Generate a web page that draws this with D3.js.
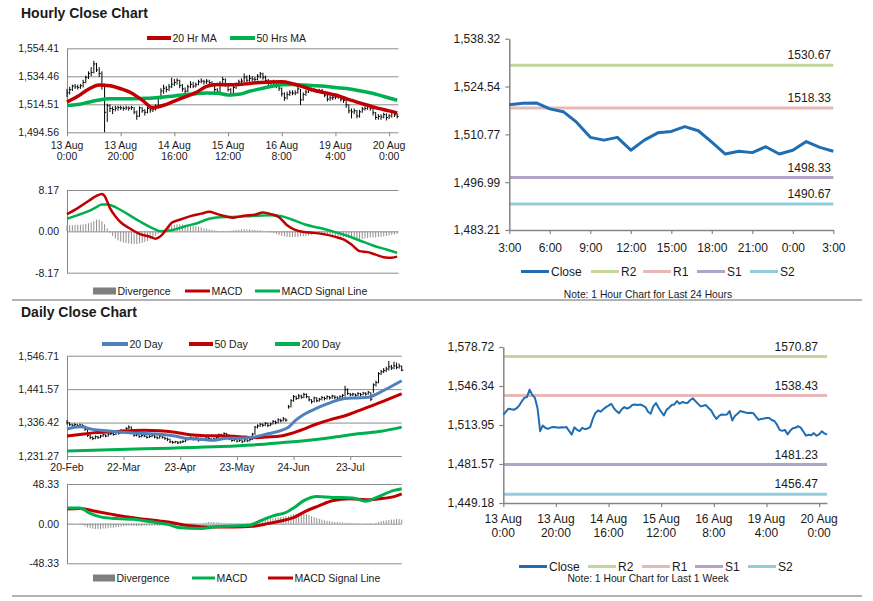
<!DOCTYPE html>
<html>
<head>
<meta charset="utf-8">
<script src="https://cdn.jsdelivr.net/npm/d3@7"></script>
<style>
body { margin: 0; background: #fff; }
svg text { font-family: "Liberation Sans", Arial, sans-serif; fill: #1a1a1a; }
</style>
</head>
<body>
<svg id="chart" width="873" height="601"></svg>
<script>
// ---------- hourly data (13 Aug 0:00 .. 20 Aug 3:00, one point per hour) ----------
const hourTickIdx = [0, 20, 40, 60, 80, 100, 120];
const hourTickLabels = [["13 Aug","0:00"],["13 Aug","20:00"],["14 Aug","16:00"],["15 Aug","12:00"],["16 Aug","8:00"],["19 Aug","4:00"],["20 Aug","0:00"]];
const hourPriceTicks = [1554.41, 1534.46, 1514.51, 1494.56];
const hourMacdTicks = [8.17, 0, -8.17];

const hourClose = [
1522.7,1525.0,1527.5,1527.0,1526.6,1527.7,1530.0,1533.5,1536.5,1537.2,
1543.3,1539.0,1536.5,1528.0,1508.8,1513.5,1511.5,1510.8,1511.8,1512.2,
1512.0,1511.6,1512.0,1511.8,1512.2,1509.0,1506.0,1512.0,1510.0,1508.8,
1511.6,1510.5,1511.0,1512.2,1519.0,1524.0,1526.0,1525.0,1527.0,1528.8,
1530.0,1531.6,1528.0,1525.5,1523.8,1527.0,1528.8,1527.5,1528.5,1530.5,
1531.0,1530.5,1531.0,1530.0,1528.8,1525.0,1523.3,1529.4,1532.2,1528.3,
1525.0,1521.8,1526.5,1528.3,1530.5,1531.0,1533.8,1531.6,1533.0,1532.5,
1532.2,1534.5,1536.2,1533.8,1531.5,1529.4,1530.0,1530.5,1528.0,1526.0,
1522.0,1519.0,1521.5,1522.7,1522.5,1522.7,1525.5,1517.7,1521.5,1523.3,
1525.5,1525.0,1524.4,1524.0,1524.2,1523.8,1521.0,1518.2,1519.0,1519.3,
1519.7,1519.8,1518.1,1517.3,1514.2,1509.9,1509.1,1509.9,1506.2,1509.1,
1511.2,1511.6,1513.0,1511.8,1508.5,1505.1,1505.9,1505.5,1507.2,1505.1,
1506.2,1508.7,1507.0,1505.9];

const hourHigh = [
1525.5,1527,1528.5,1529,1528.5,1529,1532,1535,1538,1541,
1545.5,1544,1541,1538,1529,1515,1514.5,1513,1513.5,1513.5,
1513.5,1513,1513.5,1513,1513.5,1512.5,1510,1513,1512.5,1511,
1513,1512.5,1512.5,1514.5,1520.5,1526,1528.5,1527.5,1529,1533.5,
1532.5,1533,1532,1529,1526.5,1528.5,1531,1530.5,1530,1532,
1533,1532,1532.5,1532,1531,1529.5,1526,1531,1534,1533,
1529.5,1526,1528,1530,1532,1533,1536.5,1535,1535.5,1534.5,
1534,1536,1537.5,1537,1535,1532.5,1531.5,1532,1531,1529,
1526.5,1523,1523.5,1524.5,1524.5,1524.5,1527,1525.5,1523,1525,
1527,1526.5,1526,1525.5,1525.5,1525.5,1524,1521.5,1520.5,1520.5,
1521,1521,1520.5,1519,1518,1514.5,1511.5,1511.5,1510.5,1510.5,
1512.5,1513,1514.5,1514,1512.5,1509,1507.5,1507.5,1508.5,1508,
1507.5,1510,1509.5,1508];

const hourLow = [
1519.5,1521.5,1524,1525.5,1525,1525.5,1526.5,1529.5,1532.5,1534.5,
1536.5,1537.5,1534,1525,1494.6,1502,1509,1507.5,1509.5,1510,
1510.5,1510,1510.5,1510,1510.5,1507.5,1503.5,1505.5,1508.5,1506.5,
1508,1508.5,1509,1510,1511.5,1518,1522,1523,1524,1526,
1527.5,1528.5,1526,1523.5,1521.5,1523,1526,1526,1526.5,1528,
1529.5,1528.5,1529,1528,1527,1523,1521.5,1523,1528.5,1527,
1523.5,1520,1521,1525.5,1527.5,1529,1530,1530,1530.5,1531,
1530.5,1531.5,1533,1532,1530,1527.5,1528,1528.5,1526,1524,
1520,1517,1518,1520.5,1521,1521,1522,1514,1517,1520.5,
1522.5,1523.5,1523,1522.5,1522.5,1522,1519.5,1516.5,1517,1517.5,
1518,1518.5,1516.5,1515.5,1512,1508,1504.5,1507.5,1504.5,1505,
1508.5,1510,1510.5,1510,1506.5,1503.5,1503.5,1503.5,1504.5,1503,
1504,1505,1505.5,1504.5];

// [hour, value]
const ma20Hour = [[0,1516.2],[4,1520.2],[8,1525.2],[12,1528.2],[16,1527.8],[20,1525.6],[24,1522.6],[28,1517.5],
  [32,1512.2],[36,1513.8],[40,1516.8],[44,1519.8],[48,1522.8],[52,1527.3],[56,1528.6],[60,1528.4],[64,1528.6],
  [68,1529.4],[72,1530],[76,1530.4],[80,1530.6],[84,1529.2],[88,1527],[92,1524.5],[96,1522.8],[100,1521.1],
  [104,1518.5],[108,1516.1],[112,1513.8],[116,1511.6],[120,1509.8],[123,1508.3]];
const ma50Hour = [[0,1513.6],[4,1514.3],[8,1516],[12,1517.6],[16,1518.4],[20,1518.5],[24,1518.5],[28,1518.7],
  [32,1519],[36,1519.7],[40,1520.5],[44,1521.4],[48,1522.1],[52,1522.5],[56,1522.4],[60,1521.2],[64,1521.6],
  [68,1523.8],[72,1525.5],[76,1527.2],[80,1528.4],[84,1528.7],[88,1528.2],[92,1527.8],[96,1527.3],[100,1526.4],
  [104,1525.7],[108,1524.5],[112,1523.1],[116,1521.2],[120,1519],[123,1517.4]];

const macdHour = [[0,3.4],[4,4.6],[8,6.0],[11,7.0],[13,7.4],[14,7.0],[16,4.6],[18,3.0],[20,1.8],[23,0.7],
  [27,-0.5],[31,-1.1],[33,-1.45],[35,-0.9],[37,0.4],[39,1.7],[42,2.3],[46,3.0],[50,3.5],[53,3.85],[56,3.4],
  [59,3.0],[62,2.7],[66,3.1],[70,3.3],[73,3.7],[76,3.4],[79,2.8],[82,1.2],[85,0.3],[88,-0.1],[92,-0.3],
  [96,-0.6],[100,-1.1],[103,-1.6],[106,-2.6],[109,-3.9],[112,-4.1],[115,-4.6],[118,-5.1],[121,-5.2],[123,-5.0]];
const signalHour = [[0,2.5],[4,3.2],[8,4.0],[11,4.8],[13,5.3],[15,5.3],[18,4.8],[22,3.6],[27,2.0],[32,0.6],
  [35,0.0],[39,0.2],[44,1.0],[49,1.7],[53,2.5],[57,2.8],[62,2.85],[69,3.05],[76,3.2],[80,3.0],[84,2.3],
  [89,1.3],[94,0.7],[99,0.0],[104,-0.8],[109,-1.8],[114,-2.8],[119,-3.6],[123,-4.25]];
const divHour = [
1.2,1.2,1.2,1.3,1.3,1.3,1.4,1.5,1.6,1.8,
2.0,2.3,2.3,2.0,1.4,0.6,-0.3,-0.9,-1.4,-1.8,
-2.0,-2.2,-2.3,-2.4,-2.5,-2.5,-2.5,-2.4,-2.3,-2.1,
-1.9,-1.6,-1.3,-0.9,-0.5,-0.2,0.2,0.6,1.0,1.2,
1.3,1.4,1.4,1.4,1.3,1.3,1.2,1.1,1.0,0.9,
0.8,0.6,0.5,0.4,0.3,0.2,0.1,0.0,-0.1,0.0,
0.1,0.1,0.2,0.3,0.3,0.4,0.4,0.4,0.4,0.3,
0.3,0.2,0.2,0.1,0.0,-0.1,-0.2,-0.3,-0.5,-0.7,
-0.9,-1.0,-1.1,-1.1,-1.1,-1.1,-1.1,-1.0,-1.0,-0.9,
-0.8,-0.7,-0.6,-0.5,-0.4,-0.4,-0.5,-0.6,-0.7,-0.8,
-0.9,-1.0,-1.1,-1.1,-1.2,-1.3,-1.4,-1.5,-1.6,-1.6,
-1.5,-1.4,-1.3,-1.2,-1.2,-1.2,-1.1,-1.1,-1.0,-0.9,
-0.8,-0.7,-0.6,-0.5];

// ---------- pivot level charts ----------
const levelNames = ["R2", "R1", "S1", "S2"];
const levels24 = [1530.67, 1518.33, 1498.33, 1490.67];
const levelsWeek = [1570.87, 1538.43, 1481.23, 1456.47];
const ticks24 = [1538.32, 1524.54, 1510.77, 1496.99, 1483.21];
const ticksWeek = [1578.72, 1546.34, 1513.95, 1481.57, 1449.18];
const hours24Labels = ["3:00","6:00","9:00","12:00","15:00","18:00","21:00","0:00","3:00"];
const close24 = hourClose.slice(99); // 19 Aug 3:00 .. 20 Aug 3:00

// ---------- daily data (20 Feb .. 20 Aug, trading days) ----------
const dayTickIdx = [0, 22, 44, 66, 88, 110];
const dayTickLabels = ["20-Feb","22-Mar","23-Apr","23-May","24-Jun","23-Jul"];
const dayPriceTicks = [1546.71, 1441.57, 1336.42, 1231.27];
const dayMacdTicks = [48.33, 0, -48.33];

const dayClose = [
1336,1330,1328,1330,1327,1329,1326,1315,1296,1290,
1286,1292,1289,1294,1298,1294,1300,1302,1299,1305,
1303,1312,1310,1318,1322,1314,1296,1298,1292,1296,
1294,1290,1293,1296,1291,1288,1294,1290,1286,1284,
1276,1274,1276,1273,1275,1277,1282,1286,1289,1284,
1288,1281,1285,1284,1288,1286,1282,1285,1290,1298,
1296,1302,1297,1285,1280,1283,1278,1281,1276,1282,
1279,1283,1300,1322,1326,1331,1328,1334,1327,1332,
1340,1336,1345,1342,1348,1344,1386,1405,1418,1412,
1420,1416,1425,1418,1408,1402,1414,1405,1410,1415,
1412,1418,1414,1420,1416,1413,1418,1422,1440,1428,
1424,1426,1422,1428,1424,1429,1426,1432,1410,1455,
1462,1490,1496,1500,1505,1512,1508,1515,1510,1514,
1501];
const dayHigh = [
1344,1337,1333,1334,1332,1333,1331,1327,1316,1299,
1293,1296,1295,1298,1302,1300,1304,1306,1304,1309,
1308,1316,1315,1322,1328,1324,1315,1302,1300,1300,
1299,1296,1297,1300,1298,1294,1298,1296,1292,1289,
1286,1279,1279,1278,1279,1281,1285,1290,1293,1291,
1292,1290,1289,1288,1292,1291,1288,1289,1294,1302,
1301,1306,1304,1299,1288,1287,1285,1285,1283,1285,
1284,1287,1304,1326,1331,1335,1334,1338,1336,1336,
1344,1343,1350,1348,1354,1350,1392,1410,1423,1421,
1426,1424,1430,1428,1420,1410,1418,1416,1414,1420,
1418,1422,1420,1424,1422,1419,1422,1426,1452,1444,
1430,1430,1428,1432,1430,1433,1432,1436,1432,1460,
1468,1495,1502,1508,1512,1530,1518,1528,1525,1522,
1516];
const dayLow = [
1330,1326,1324,1325,1323,1324,1321,1310,1291,1284,
1281,1284,1285,1287,1291,1290,1292,1297,1295,1297,
1299,1301,1306,1308,1316,1310,1292,1293,1288,1290,
1290,1286,1288,1290,1287,1284,1286,1286,1282,1278,
1272,1270,1271,1269,1270,1272,1275,1280,1283,1280,
1282,1276,1279,1280,1282,1281,1278,1280,1283,1288,
1292,1294,1292,1281,1276,1277,1274,1276,1272,1275,
1275,1277,1281,1298,1318,1322,1323,1325,1322,1325,
1330,1331,1334,1337,1340,1339,1380,1384,1402,1407,
1410,1411,1413,1413,1403,1396,1400,1400,1402,1406,
1406,1409,1409,1411,1410,1408,1410,1414,1418,1423,
1419,1420,1418,1420,1419,1422,1421,1424,1404,1430,
1450,1460,1486,1492,1495,1500,1502,1504,1504,1506,
1498];

// [day, value]
const ma20Day = [[0,1316],[5,1323],[10,1315],[16,1310],[23,1305],[30,1302],[36,1300],[42,1294],[47,1286],
  [52,1284],[57,1281],[62,1287],[67,1287],[72,1290],[78,1301],[83,1311],[86,1322],[89,1345],[92,1362],
  [96,1378],[101,1395],[106,1409],[112,1414],[117,1416],[121,1429],[125,1446],[130,1468]];
const ma50Day = [[0,1294],[5,1299],[10,1304],[16,1307],[23,1310],[30,1312],[36,1311],[42,1306],[47,1299],
  [52,1296],[57,1295],[62,1294],[67,1292],[72,1289],[78,1291],[83,1294],[87,1302],[92,1316],[97,1332],
  [102,1345],[108,1358],[113,1373],[118,1388],[123,1404],[130,1427]];
const ma200Day = [[0,1247],[20,1252],[40,1256],[60,1261],[72,1266],[83,1273],[94,1281],[104,1291],
  [114,1302],[122,1309],[130,1322]];

const macdDay = [[0,19],[5,19],[9,12.4],[13,8.3],[19,6.2],[26,5.4],[32,2.5],[39,-0.8],[44,-5],[52,-5.8],
  [58,-3.7],[65,-2.9],[71,-2],[75,3.3],[80,9.5],[85,13.6],[88,19],[92,28],[97,33],[103,32],[111,31.4],
  [116,27.3],[121,33],[127,40.5],[130,42.6]];
const signalDay = [[0,17.8],[5,18.6],[10,15.7],[17,11.6],[23,8.3],[30,5.4],[36,3.3],[41,1.2],[46,-2],
  [52,-3.7],[58,-4.1],[65,-4.1],[72,-3.3],[78,0],[83,3.3],[88,7.4],[93,15.7],[98,21.9],[103,28],
  [110,30.2],[116,29],[121,30.2],[127,33],[130,36.4]];
const divDay = [
0.5,0.5,0.3,0.2,0,-0.5,-1.5,-3,
-4.5,-5.5,-6,-6.5,-6.5,-6.5,-6,-6,
-5.5,-5,-5,-4.5,-4,-3.5,-3,-3,
-2.5,-2.5,-3,-3,-3,-3,-2.5,-2.5,
-2.5,-2.5,-2.5,-2.5,-2.5,-2,-2,-2,
-2,-2,-2,-2,-1.5,-1.5,-1,-1,
-0.5,-0.5,0,0,0.5,1,1.5,2,
2,2,1.5,1.5,1,1,0.5,0.5,
0.5,0.5,0.5,0.5,0.5,0.5,1,1,
1.5,2,3,3.5,4,5,5.5,6,
6.5,7,7.5,8,8.5,9,9.5,10.5,
11.5,12,12.5,12.5,12,11.5,10.5,9,
8,7,6,5,4,3.5,3,2.5,
2,2,1.5,1.5,1,1,1,0.5,
0.5,0.5,0,0,-0.5,-0.5,-1,0,
1,2,3,3.5,4,4.5,5,5,
5.5,5.5,5];

// ---------- drawing ----------
const svg = d3.select("#chart");
const fmt2 = d3.format(",.2f");
const fmtPlain = d => d.toFixed(2); // keeps a plain hyphen for negatives
const GRID = "#8c8c8c";
const AXIS = "#868686";
const RED = "#c00000", GREEN = "#00b050", BLUE = "#4f81bd", CLOSE_BLUE = "#1f6db3", DIV_GRAY = "#8f8f8f";
const levelColors = ["#c3d69b", "#e6b9b8", "#b3a2c7", "#93cddd"];

function addText(x, y, str, size, anchor, weight) {
  return svg.append("text")
    .attr("x", x).attr("y", y).attr("dy", "0.35em")
    .attr("font-size", size)
    .attr("text-anchor", anchor || "start")
    .attr("font-weight", weight || "normal")
    .text(str);
}

function legendItem(x1, x2, y, color, label, size, width) {
  if (color === "box") {
    svg.append("rect").attr("x", x1).attr("y", y - 3.5).attr("width", x2 - x1).attr("height", 7).attr("fill", "#7f7f7f");
  } else {
    svg.append("line").attr("x1", x1).attr("x2", x2).attr("y1", y).attr("y2", y)
      .attr("stroke", color).attr("stroke-width", width || 3.5);
  }
  addText(x2 + 1.5, y, label, size);
}

// left-hand panels: horizontal gridlines at each tick and a left axis line
function gridPanel(xDomain, yTicks, box, fmt) {
  const x = d3.scaleLinear().domain(xDomain).range([box.x0, box.x1]);
  const y = d3.scaleLinear().domain([yTicks[yTicks.length - 1], yTicks[0]]).range([box.y1, box.y0]);
  const g = svg.append("g").attr("transform", `translate(${box.x0},0)`)
    .call(d3.axisLeft(y).tickValues(yTicks).tickFormat(fmt).tickSize(-(box.x1 - box.x0)).tickSizeOuter(0).tickPadding(8));
  g.selectAll(".tick line").attr("stroke", GRID);
  g.select(".domain").attr("stroke", AXIS);
  g.selectAll("text").attr("font-size", 10.5);
  return { x, y };
}

function bottomTicks(x, yPos, idx) {
  const g = svg.append("g").attr("transform", `translate(0,${yPos})`)
    .call(d3.axisBottom(x).tickValues(idx).tickSize(4).tickFormat(""));
  g.select(".domain").remove();
  g.selectAll(".tick line").attr("stroke", AXIS);
}

function drawBars(s, hi, lo, close) {
  const g = svg.append("g").attr("stroke", "#000").attr("stroke-width", 1);
  g.selectAll("line.hl").data(close).enter().append("line")
    .attr("x1", (d, i) => s.x(i)).attr("x2", (d, i) => s.x(i))
    .attr("y1", (d, i) => s.y(hi[i])).attr("y2", (d, i) => s.y(lo[i]));
  g.selectAll("line.c").data(close).enter().append("line")
    .attr("x1", (d, i) => s.x(i)).attr("x2", (d, i) => s.x(i) + 1.6)
    .attr("y1", d => s.y(d)).attr("y2", d => s.y(d));
}

function drawLine(s, pts, color, width) {
  const line = d3.line().x(d => s.x(d[0])).y(d => s.y(d[1])).curve(d3.curveMonotoneX);
  svg.append("path").datum(pts).attr("d", line).attr("fill", "none")
    .attr("stroke", color).attr("stroke-width", width).attr("stroke-linejoin", "round");
}

function drawDivergence(s, vals) {
  svg.append("g").selectAll("line").data(vals).enter().append("line")
    .attr("x1", (d, i) => s.x(i)).attr("x2", (d, i) => s.x(i))
    .attr("y1", s.y(0)).attr("y2", d => s.y(d))
    .attr("stroke", DIV_GRAY).attr("stroke-width", 1);
}

// ===== titles and separators =====
addText(21, 13, "Hourly Close Chart", 14, "start", "bold");
addText(21, 312, "Daily Close Chart", 14, "start", "bold");
[300, 596].forEach(yy => svg.append("line").attr("x1", 12).attr("x2", 862).attr("y1", yy).attr("y2", yy)
  .attr("stroke", "#9a9a9a").attr("stroke-width", 1.5));

// ===== hourly price =====
legendItem(147, 171, 38, RED, "20 Hr MA", 10.5, 4);
legendItem(230, 255, 38, GREEN, "50 Hrs MA", 10.5, 4);
const hp = gridPanel([0, 123.5], hourPriceTicks, { x0: 67, x1: 398.5, y0: 48.3, y1: 132.3 }, fmt2);
bottomTicks(hp.x, 132.3, hourTickIdx);
hourTickIdx.forEach((t, i) => {
  addText(hp.x(t), 145.5, hourTickLabels[i][0], 10.5, "middle");
  addText(hp.x(t), 156.5, hourTickLabels[i][1], 10.5, "middle");
});
drawBars(hp, hourHigh, hourLow, hourClose);
drawLine(hp, ma50Hour, GREEN, 3.5);
drawLine(hp, ma20Hour, RED, 3.5);

// ===== hourly MACD =====
const hm = gridPanel([0, 123.5], hourMacdTicks, { x0: 67, x1: 398.5, y0: 190, y1: 272.7 }, fmtPlain);
drawDivergence(hm, divHour);
drawLine(hm, signalHour, GREEN, 2.5);
drawLine(hm, macdHour, RED, 2.5);
legendItem(93, 116, 291, "box", "Divergence", 10.5);
legendItem(185, 210, 291, RED, "MACD", 10.5, 3);
legendItem(255, 280, 291, GREEN, "MACD Signal Line", 10.5, 3);

// ===== pivot panels (right side) =====
function pivotPanel(cfg) {
  const x = d3.scaleLinear().domain(cfg.xDomain).range([cfg.x0, cfg.x1]);
  const y = d3.scaleLinear().domain([cfg.ticks[cfg.ticks.length - 1], cfg.ticks[0]]).range([cfg.y1, cfg.y0]);
  cfg.levels.forEach((v, i) => {
    svg.append("line").attr("x1", cfg.x0).attr("x2", cfg.x1).attr("y1", y(v)).attr("y2", y(v))
      .attr("stroke", levelColors[i]).attr("stroke-width", 3);
    addText(cfg.labelX, y(v) - cfg.labelGap, v.toFixed(2), 12, "end");
  });
  const ya = svg.append("g").attr("transform", `translate(${cfg.x0},0)`)
    .call(d3.axisLeft(y).tickValues(cfg.ticks).tickFormat(fmt2).tickSize(4).tickSizeOuter(0).tickPadding(5));
  const xa = svg.append("g").attr("transform", `translate(0,${cfg.y1})`)
    .call(d3.axisBottom(x).tickValues(cfg.xTicks).tickFormat((d, i) => cfg.xLabels ? cfg.xLabels[i] : "")
      .tickSize(4).tickSizeOuter(0).tickPadding(9));
  [ya, xa].forEach(g => {
    g.select(".domain").attr("stroke", AXIS).attr("stroke-width", 1.5);
    g.selectAll(".tick line").attr("stroke", AXIS).attr("stroke-width", 1.2);
    g.selectAll("text").attr("font-size", 12);
  });
  const line = d3.line().x((d, i) => x(i)).y(d => y(d));
  svg.append("path").datum(cfg.close).attr("d", line).attr("fill", "none")
    .attr("stroke", CLOSE_BLUE).attr("stroke-width", cfg.width).attr("stroke-linejoin", "round");
  // legend
  const items = [["Close", CLOSE_BLUE]].concat(levelNames.map((n, i) => [n, levelColors[i]]));
  items.forEach((it, i) => {
    const lx = cfg.legendX[i];
    svg.append("line").attr("x1", lx).attr("x2", lx + 28).attr("y1", cfg.legendY).attr("y2", cfg.legendY)
      .attr("stroke", it[1]).attr("stroke-width", 3);
    addText(lx + 30, cfg.legendY, it[0], 12);
  });
  addText(648, cfg.noteY, cfg.note, 10.3, "middle");
  return { x, y };
}

pivotPanel({
  xDomain: [0, 24], x0: 509.3, x1: 833.3, y0: 38.7, y1: 230,
  ticks: ticks24, levels: levels24, labelX: 831, labelGap: 10,
  xTicks: d3.range(0, 25, 3), xLabels: hours24Labels,
  close: close24, width: 3,
  legendX: [521, 591, 643, 697, 750], legendY: 271.5,
  note: "Note: 1 Hour Chart for Last 24 Hours", noteY: 294
});

const wk = pivotPanel({
  xDomain: [0, 123], x0: 503.3, x1: 827, y0: 347, y1: 503,
  ticks: ticksWeek, levels: levelsWeek, labelX: 818, labelGap: 10,
  xTicks: hourTickIdx, xLabels: null,
  close: hourClose, width: 2,
  legendX: [519, 588, 642, 695, 748], legendY: 566.5,
  note: "Note: 1 Hour Chart for Last 1 Week", noteY: 578.5
});
hourTickIdx.forEach((t, i) => {
  addText(wk.x(t), 519, hourTickLabels[i][0], 12, "middle");
  addText(wk.x(t), 533, hourTickLabels[i][1], 12, "middle");
});

// ===== daily price =====
legendItem(102, 128, 344, BLUE, "20 Day", 10.5, 4);
legendItem(189, 213, 344, RED, "50 Day", 10.5, 4);
legendItem(275, 300, 344, GREEN, "200 Day", 10.5, 4);
const dp = gridPanel([0, 130], dayPriceTicks, { x0: 67, x1: 401.7, y0: 355.7, y1: 456 }, fmt2);
bottomTicks(dp.x, 456, dayTickIdx);
dayTickIdx.forEach((t, i) => addText(dp.x(t), 467, dayTickLabels[i], 10.5, "middle"));
drawBars(dp, dayHigh, dayLow, dayClose);
drawLine(dp, ma200Day, GREEN, 3);
drawLine(dp, ma50Day, RED, 3);
drawLine(dp, ma20Day, BLUE, 3);

// ===== daily MACD =====
const dm = gridPanel([0, 130], dayMacdTicks, { x0: 67, x1: 401.7, y0: 484, y1: 563.3 }, fmtPlain);
drawDivergence(dm, divDay);
drawLine(dm, signalDay, RED, 3);
drawLine(dm, macdDay, GREEN, 3);
legendItem(93, 115, 578, "box", "Divergence", 10.5);
legendItem(192, 215, 578, GREEN, "MACD", 10.5, 3);
legendItem(268, 293, 578, RED, "MACD Signal Line", 10.5, 3);
</script>
</body>
</html>
